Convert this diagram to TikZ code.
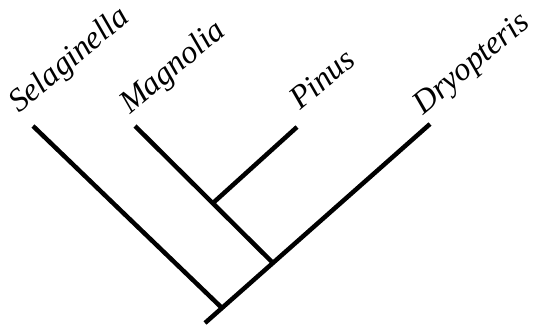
\documentclass[tikz,border=0pt]{standalone}
\usepackage{fontspec}
\setmainfont{Liberation Serif}[ItalicFont={Liberation Serif Italic}]
\tikzset{
  branch/.style={line width=4.5pt, black},
  taxon/.style={font=\fontsize{32.5}{32.5}\selectfont\itshape, anchor=base west, rotate=40, inner sep=0pt}
}
\begin{document}
\begin{tikzpicture}[x=1pt,y=-1pt]
\useasboundingbox (0,0) rectangle (534,326);
% tips
\coordinate (tS) at (33,126);
\coordinate (tM) at (135,126);
\coordinate (tP) at (297,127);
\coordinate (tD) at (430,124);
% internal nodes
\coordinate (root) at (205,323);
\coordinate (n1) at (222,308);
\coordinate (n2) at (273,263);
\coordinate (n3) at (213,203);
% branches
\draw[branch] (root) -- (tD);
\draw[branch] (n1) -- (tS);
\draw[branch] (n2) -- (tM);
\draw[branch] (n3) -- (tP);
% labels
\node[taxon] (lS) at (19,114) {Selaginella};
\node[taxon] (lM) at (130,115) {Magnolia};
\node[taxon] (lP) at (300,111) {Pinus};
\node[taxon] (lD) at (423,116) {Dryopteris};
\end{tikzpicture}
\end{document}
